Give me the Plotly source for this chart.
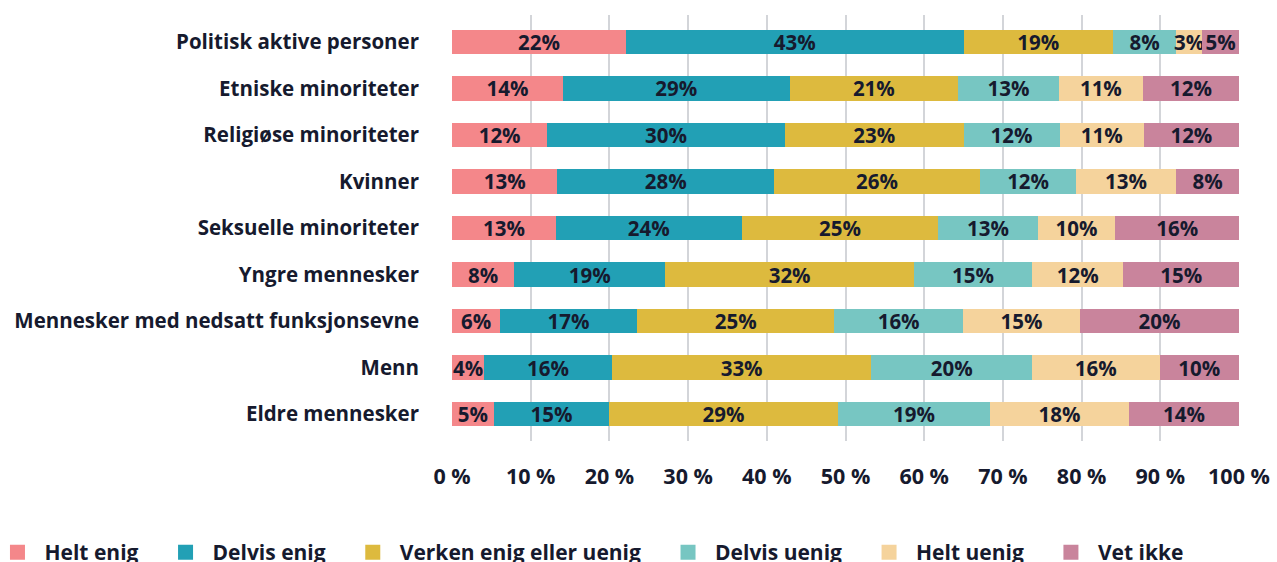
import plotly.graph_objects as go

categories = [
    "Politisk aktive personer",
    "Etniske minoriteter",
    "Religiøse minoriteter",
    "Kvinner",
    "Seksuelle minoriteter",
    "Yngre mennesker",
    "Mennesker med nedsatt funksjonsevne",
    "Menn",
    "Eldre mennesker",
]

series_names = ["Helt enig", "Delvis enig", "Verken enig eller uenig",
                "Delvis uenig", "Helt uenig", "Vet ikke"]

helt_enig = [22.1, 14.1, 12.1, 13.4, 13.2, 7.9, 6.1, 4.1, 5.3]
delvis_enig = [42.9, 28.8, 30.2, 27.5, 23.6, 19.2, 17.4, 16.2, 14.7]
verken = [19.0, 21.4, 22.7, 26.2, 25.0, 31.6, 25.1, 33.0, 29.0]
delvis_uenig = [8.0, 12.8, 12.2, 12.2, 12.6, 15.0, 16.3, 20.4, 19.4]
helt_uenig = [3.3, 10.7, 10.7, 12.7, 9.9, 11.6, 14.9, 16.2, 17.6]
vet_ikke = [4.7, 12.2, 12.1, 8.0, 15.7, 14.7, 20.2, 10.1, 14.0]

tick_vals = [0, 10, 20, 30, 40, 50, 60, 70, 80, 90, 100]
tick_text = ["0 %", "10 %", "20 %", "30 %", "40 %", "50 %",
             "60 %", "70 %", "80 %", "90 %", "100 %"]

colors = ["#f4878a", "#22a0b5", "#ddba3e", "#77c6c2", "#f5d39c", "#c9849c"]
all_values = [helt_enig, delvis_enig, verken, delvis_uenig, helt_uenig, vet_ikke]

FONT = "Open Sans"
TXT = "#161a2e"

fig = go.Figure()
for name, vals, col in zip(series_names, all_values, colors):
    fig.add_trace(go.Bar(
        y=categories, x=vals, name=name, orientation="h",
        marker=dict(color=col, line=dict(width=0)),
        texttemplate="%{x:.0f}%", textposition="inside",
        insidetextanchor="middle", constraintext="none",
        textfont=dict(family=FONT, size=20.5, color=TXT, weight=700),
        showlegend=False, hoverinfo="skip",
    ))
    fig.add_trace(go.Scatter(
        x=[None], y=[None], mode="markers", name=name,
        marker=dict(symbol="square", size=15, color=col),
        showlegend=True,
    ))

fig.update_layout(
    width=1277, height=562,
    barmode="stack", bargap=0.47,
    paper_bgcolor="white", plot_bgcolor="white",
    margin=dict(l=452, r=38, t=15, b=121, pad=0, autoexpand=False),
    font=dict(family=FONT, size=20, color=TXT, weight=700),
    xaxis=dict(range=[0, 100], tickvals=tick_vals, ticktext=tick_text,
               showgrid=True, gridcolor="#d3d5d9", gridwidth=2,
               zeroline=False, showline=False, ticks="",
               ticklabelstandoff=20,
               tickfont=dict(family=FONT, size=21.5, color=TXT, weight=700)),
    yaxis=dict(categoryorder="array", categoryarray=categories,
               range=[8.58, -0.58], showgrid=False, zeroline=False,
               ticks="", ticklabelstandoff=32,
               tickfont=dict(family=FONT, size=20.5, color=TXT, weight=700)),
    legend=dict(orientation="h", xref="paper", yref="paper",
                x=-0.6055, xanchor="left", y=-0.262, yanchor="middle",
                itemwidth=44, indentation=15,
                font=dict(family=FONT, size=21, color=TXT, weight=700),
                itemsizing="trace", traceorder="normal"),
)

fig.write_html("out.html", config={"displayModeBar": False},
               post_script="document.body.style.margin='0';")
